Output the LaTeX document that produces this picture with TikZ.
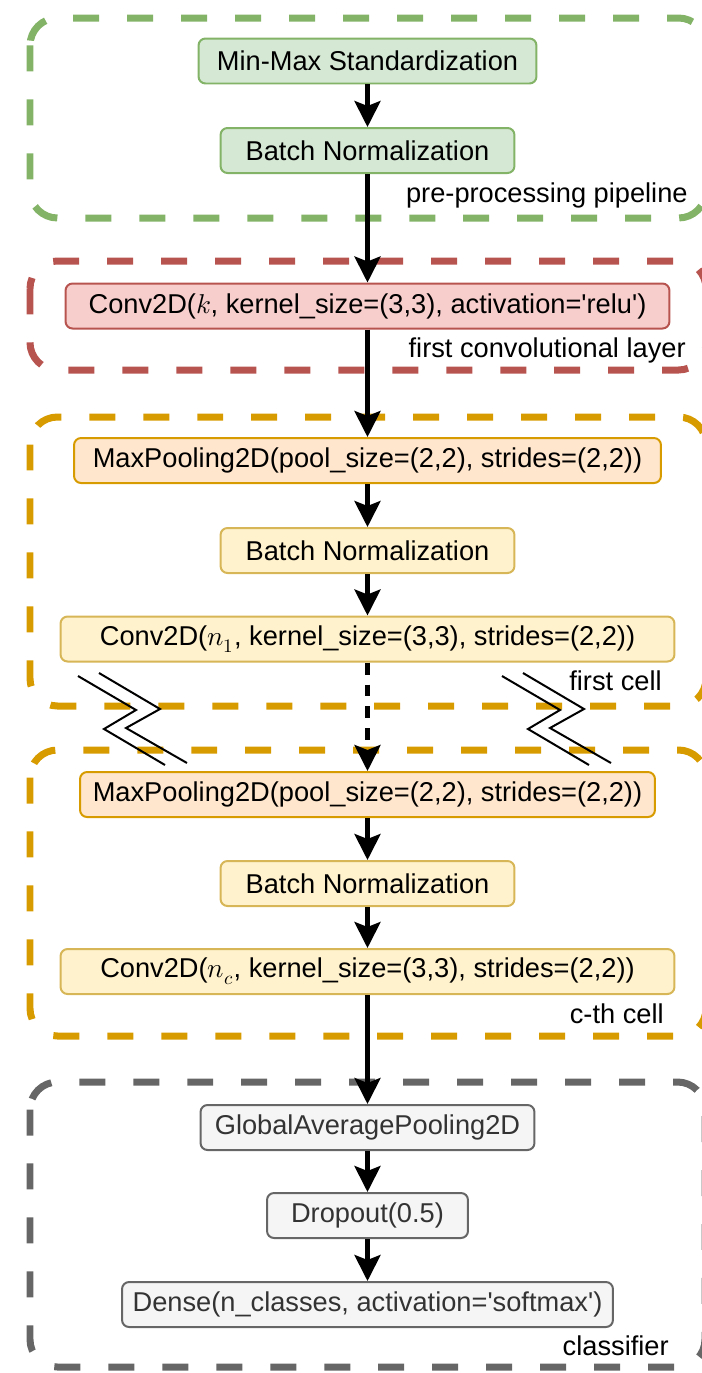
\documentclass[tikz,border=0pt]{standalone}
\usepackage{fontspec}
\usepackage{unicode-math}
\setmainfont{Liberation Sans}
\setmathfont{Latin Modern Math}
\usetikzlibrary{arrows.meta}

\definecolor{grnfill}{HTML}{D5E8D4}
\definecolor{grnline}{HTML}{82B366}
\definecolor{redfill}{HTML}{F8CECC}
\definecolor{redline}{HTML}{B85450}
\definecolor{orgfill}{HTML}{FFE6CC}
\definecolor{orgline}{HTML}{D79B00}
\definecolor{ylwfill}{HTML}{FFF2CC}
\definecolor{ylwline}{HTML}{D6B656}
\definecolor{gryfill}{HTML}{F5F5F5}
\definecolor{gryline}{HTML}{666666}
\definecolor{grytext}{HTML}{333333}

\tikzset{
  layer/.style={draw, rounded corners=0.14cm, line width=0.04cm,
    minimum height=0.9cm, inner xsep=1pt,
    font=\fontsize{15.5}{18}\selectfont},
  prep/.style={layer, fill=grnfill, draw=grnline},
  first/.style={layer, fill=redfill, draw=redline},
  pool/.style={layer, fill=orgfill, draw=orgline},
  cellop/.style={layer, fill=ylwfill, draw=ylwline},
  head/.style={layer, fill=gryfill, draw=gryline, text=grytext},
  group/.style={line width=0.14cm, rounded corners=0.55cm,
    dash pattern=on 0.52cm off 0.56cm},
  tag/.style={anchor=base east, inner sep=0pt,
    font=\fontsize{15.5}{18}\selectfont},
  flow/.style={line width=0.09cm,
    -{Stealth[length=0.52cm, width=0.52cm, inset=0.1cm]}},
  skipflow/.style={flow, dash pattern=on 0.24cm off 0.2cm},
  brk/.style={line width=0.04cm, miter limit=10},
}

\begin{document}
\begin{tikzpicture}[x=0.02cm, y=-0.02cm]
  \useasboundingbox (0,0) rectangle (701,1373);

  % dashed frames round each stage
  \draw[group, grnline] (30,18) rectangle (706,218);
  \draw[group, redline] (30,261) rectangle (706,370);
  \draw[group, orgline] (30,417) rectangle (706,706);
  \draw[group, orgline] (30,750) rectangle (706,1036);
  \draw[group, gryline] (30,1082) rectangle (705,1367);

  % pre-processing
  \node[prep, minimum width=6.76cm] (minmax) at (367.5,61) {Min-Max Standardization};
  \node[prep, minimum width=5.88cm] (bn0) at (367.5,150.5) {Batch Normalization};
  \node[tag] (lblprep) at (688,202) {pre-processing pipeline};

  % first conv layer
  \node[first, minimum width=12.08cm] (conv0) at (367.5,306)
    {Conv2D($k$, kernel\_size=(3,3), activation=\textquotesingle relu\textquotesingle)};
  \node[tag] (lblconv) at (686,357) {first convolutional layer};

  % first cell
  \node[pool, minimum width=11.74cm] (pool1) at (367.5,460.5)
    {MaxPooling2D(pool\_size=(2,2), strides=(2,2))};
  \node[cellop, minimum width=5.88cm] (bn1) at (367.5,550.5) {Batch Normalization};
  \node[cellop, minimum width=12.28cm] (conv1) at (367.5,639)
    {Conv2D($n_1$, kernel\_size=(3,3), strides=(2,2))};
  \node[tag] (lblfirst) at (662,690) {first cell};

  % c-th cell
  \node[pool, minimum width=11.5cm] (pool2) at (367.5,794.5)
    {MaxPooling2D(pool\_size=(2,2), strides=(2,2))};
  \node[cellop, minimum width=5.88cm] (bn2) at (367.5,883.5) {Batch Normalization};
  \node[cellop, minimum width=12.28cm] (conv2) at (367.5,971.5)
    {Conv2D($n_c$, kernel\_size=(3,3), strides=(2,2))};
  \node[tag] (lblcth) at (664,1023) {c-th cell};

  % classifier
  \node[head, minimum width=6.68cm] (gap) at (367.5,1127.5) {GlobalAveragePooling2D};
  \node[head, minimum width=4.02cm] (drop) at (367.5,1215.5) {Dropout(0.5)};
  \node[head, minimum width=9.82cm] (dense) at (367.5,1304.5)
    {Dense(n\_classes, activation=\textquotesingle softmax\textquotesingle)};
  \node[tag] (lblcls) at (669,1355) {classifier};

  % data flow
  \draw[flow] (minmax) -- (bn0);
  \draw[flow] (bn0) -- (conv0);
  \draw[flow] (conv0) -- (pool1);
  \draw[flow] (pool1) -- (bn1);
  \draw[flow] (bn1) -- (conv1);
  \draw[skipflow] (conv1) -- (pool2);
  \draw[flow] (pool2) -- (bn2);
  \draw[flow] (bn2) -- (conv2);
  \draw[flow] (conv2) -- (gap);
  \draw[flow] (gap) -- (drop);
  \draw[flow] (drop) -- (dense);

  % break marks between the cells
  \foreach \dx in {0,424} {
    \draw[brk] (78+\dx,676) -- (136+\dx,710) -- (104+\dx,729) -- (165+\dx,765);
    \draw[brk] (99+\dx,673) -- (160+\dx,709) -- (126+\dx,728) -- (187+\dx,763);
  }
\end{tikzpicture}
\end{document}
